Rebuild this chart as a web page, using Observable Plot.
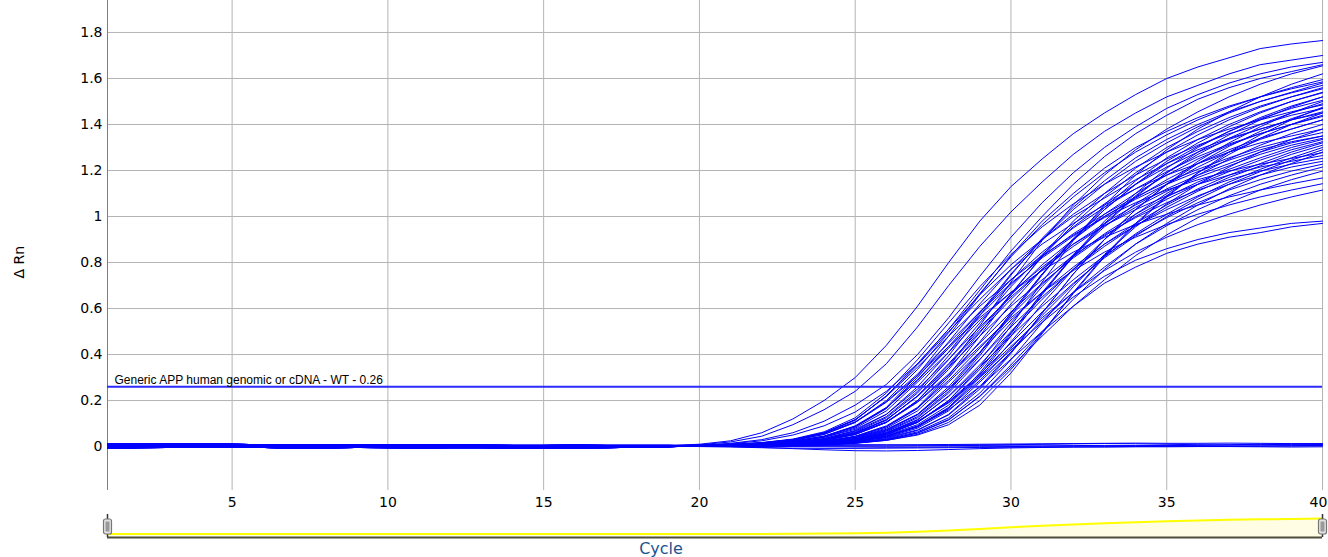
<!DOCTYPE html>
<html>
<head>
<meta charset="utf-8">
<script src="https://cdn.jsdelivr.net/npm/d3@7"></script>
<script src="https://cdn.jsdelivr.net/npm/@observablehq/plot@0.6"></script>
<style>
  body { margin: 0; background: #fff; }
  #wrap { position: relative; width: 1328px; height: 557px; overflow: hidden; background: #fff; }
  #main { position: absolute; left: 0; top: 0; }
  #slider { position: absolute; left: 0; top: 512px; }
  #xlabel { position: absolute; left: 0; top: 539px; width: 1322px; text-align: center;
            font-family: "DejaVu Sans", sans-serif; font-size: 16px; line-height: 19px; color: #1c5490; }
</style>
</head>
<body>
<div id="wrap">
  <div id="main"></div>
  <div id="slider"></div>
  <div id="xlabel">Cycle</div>
</div>
<script>
// ---- data (ΔRn per cycle) ----
const cycles = [1,2,3,4,5,6,7,8,9,10,11,12,13,14,15,16,17,18,19,20,21,22,23,24,25,26,27,28,29,30,31,32,33,34,35,36,37,38,39,40];
const xTicks = [5,10,15,20,25,30,35];
const xTickLast = [40];
const yTicks = [0,0.2,0.4,0.6,0.8,1,1.2,1.4,1.6,1.8];
const threshold = 0.26;
const thresholdLabel = "Generic APP human genomic or cDNA - WT - 0.26";
const yLabel = "\u0394 Rn";

// cycles 1..19 baseline variants
const baselines = [
  [0.013,0.012,0.011,0.011,0.010,0.008,0.006,0.007,0.008,0.007,0.006,0.007,0.006,0.005,0.005,0.006,0.005,0.005,0.005],
  [0.005,0.004,0.004,0.005,0.003,0.001,-0.001,0.000,0.002,0.001,0.000,0.001,0.001,0.000,-0.001,0.000,0.001,0.001,0.002],
  [0.009,0.008,0.008,0.008,0.006,0.004,0.002,0.003,0.005,0.003,0.002,0.003,0.003,0.002,0.002,0.003,0.003,0.003,0.003],
  [-0.007,-0.005,-0.004,-0.003,-0.003,-0.004,-0.007,-0.006,-0.004,-0.005,-0.006,-0.005,-0.005,-0.006,-0.007,-0.006,-0.005,-0.003,-0.001],
  [0.002,0.001,0.002,0.002,0.000,-0.002,-0.004,-0.003,-0.001,-0.002,-0.003,-0.002,-0.001,-0.002,-0.003,-0.002,-0.001,0.000,0.001]
];

// cycles 20..40
const topCurves = [
  [0.01,0.025,0.06,0.12,0.20,0.30,0.44,0.61,0.80,0.98,1.13,1.25,1.36,1.45,1.53,1.60,1.65,1.69,1.73,1.75,1.765],
  [0.008,0.02,0.045,0.095,0.16,0.24,0.36,0.52,0.70,0.87,1.02,1.15,1.27,1.37,1.45,1.52,1.57,1.62,1.66,1.68,1.70],
  [0.006,0.014,0.03,0.06,0.11,0.18,0.27,0.40,0.56,0.74,0.91,1.06,1.19,1.30,1.39,1.47,1.53,1.58,1.62,1.65,1.67],
  [0.005,0.012,0.025,0.05,0.09,0.15,0.24,0.36,0.51,0.68,0.85,1.00,1.14,1.26,1.36,1.44,1.51,1.56,1.60,1.63,1.66]
];
const groupE = [
  [0.0035,0.005,0.008,0.014,0.0265,0.0525,0.105,0.20,0.345,0.525,0.715,0.895,1.05,1.18,1.29,1.38,1.455,1.52,1.575,1.62,1.655],
  [0.003,0.0035,0.005,0.008,0.014,0.0265,0.0525,0.105,0.20,0.345,0.525,0.715,0.895,1.05,1.18,1.29,1.38,1.455,1.52,1.575,1.62]
];
const groupB = [
  [0.005,0.008,0.014,0.027,0.053,0.105,0.2,0.335,0.495,0.665,0.825,0.965,1.085,1.19,1.28,1.355,1.42,1.475,1.52,1.56,1.595],
  [0.004,0.006,0.010,0.018,0.035,0.07,0.14,0.26,0.41,0.58,0.75,0.90,1.03,1.14,1.24,1.32,1.39,1.45,1.50,1.54,1.58],
  [0.0035,0.005,0.008,0.014,0.027,0.053,0.105,0.2,0.335,0.495,0.665,0.825,0.965,1.085,1.19,1.28,1.355,1.42,1.475,1.52,1.56],
  [0.003,0.004,0.006,0.010,0.018,0.035,0.07,0.14,0.26,0.41,0.58,0.75,0.90,1.03,1.14,1.24,1.32,1.39,1.45,1.50,1.54],
  [0.003,0.0035,0.005,0.008,0.014,0.027,0.053,0.105,0.2,0.335,0.495,0.665,0.825,0.965,1.085,1.19,1.28,1.355,1.42,1.475,1.52],
  [0.003,0.003,0.004,0.006,0.010,0.018,0.035,0.07,0.14,0.26,0.41,0.58,0.75,0.90,1.03,1.14,1.24,1.32,1.39,1.45,1.50],
  [0.0025,0.003,0.0035,0.005,0.008,0.014,0.027,0.053,0.105,0.2,0.335,0.495,0.665,0.825,0.965,1.085,1.19,1.28,1.355,1.42,1.475]
];
const groupBC = [
  [0.0055,0.0095,0.017,0.0325,0.064,0.125,0.2325,0.3775,0.5375,0.695,0.835,0.955,1.055,1.14,1.215,1.28,1.335,1.38,1.42,1.455,1.485],
  [0.004,0.007,0.012,0.022,0.043,0.085,0.165,0.30,0.455,0.62,0.77,0.90,1.01,1.10,1.18,1.25,1.31,1.36,1.40,1.44,1.47],
  [0.0035,0.0055,0.0095,0.017,0.0325,0.064,0.125,0.2325,0.3775,0.5375,0.695,0.835,0.955,1.055,1.14,1.215,1.28,1.335,1.38,1.42,1.455],
  [0.003,0.004,0.007,0.012,0.022,0.043,0.085,0.165,0.30,0.455,0.62,0.77,0.90,1.01,1.10,1.18,1.25,1.31,1.36,1.40,1.44],
  [0.003,0.0035,0.0055,0.0095,0.017,0.0325,0.064,0.125,0.2325,0.3775,0.5375,0.695,0.835,0.955,1.055,1.14,1.215,1.28,1.335,1.38,1.42],
  [0.003,0.003,0.004,0.007,0.012,0.022,0.043,0.085,0.165,0.30,0.455,0.62,0.77,0.90,1.01,1.10,1.18,1.25,1.31,1.36,1.40],
  [0.0025,0.003,0.0035,0.0055,0.0095,0.017,0.0325,0.064,0.125,0.2325,0.3775,0.5375,0.695,0.835,0.955,1.055,1.14,1.215,1.28,1.335,1.38]
];
const groupC = [
  [0.005,0.008,0.015,0.029,0.058,0.115,0.22,0.355,0.50,0.64,0.77,0.88,0.97,1.05,1.12,1.18,1.23,1.28,1.32,1.35,1.38],
  [0.0045,0.0065,0.0115,0.022,0.0435,0.0865,0.1675,0.2875,0.4275,0.57,0.705,0.825,0.925,1.01,1.085,1.15,1.205,1.255,1.30,1.335,1.365],
  [0.004,0.005,0.008,0.015,0.029,0.058,0.115,0.22,0.355,0.50,0.64,0.77,0.88,0.97,1.05,1.12,1.18,1.23,1.28,1.32,1.35],
  [0.0035,0.0045,0.0065,0.0115,0.022,0.0435,0.0865,0.1675,0.2875,0.4275,0.57,0.705,0.825,0.925,1.01,1.085,1.15,1.205,1.255,1.30,1.335],
  [0.003,0.004,0.005,0.008,0.015,0.029,0.058,0.115,0.22,0.355,0.50,0.64,0.77,0.88,0.97,1.05,1.12,1.18,1.23,1.28,1.32],
  [0.003,0.0035,0.0045,0.0065,0.0115,0.022,0.0435,0.0865,0.1675,0.2875,0.4275,0.57,0.705,0.825,0.925,1.01,1.085,1.15,1.205,1.255,1.30],
  [0.003,0.003,0.004,0.005,0.008,0.015,0.029,0.058,0.115,0.22,0.355,0.50,0.64,0.77,0.88,0.97,1.05,1.12,1.18,1.23,1.28]
];
const groupCD = [
  [0.005,0.0085,0.0155,0.03,0.06,0.1175,0.2175,0.345,0.48,0.61,0.725,0.83,0.92,0.995,1.06,1.115,1.16,1.1975,1.2275,1.2525,1.2775],
  [0.004,0.006,0.011,0.02,0.04,0.08,0.155,0.28,0.41,0.55,0.67,0.78,0.88,0.96,1.03,1.09,1.14,1.18,1.215,1.24,1.265],
  [0.0035,0.005,0.0085,0.0155,0.03,0.06,0.1175,0.2175,0.345,0.48,0.61,0.725,0.83,0.92,0.995,1.06,1.115,1.16,1.1975,1.2275,1.2525],
  [0.003,0.004,0.006,0.011,0.02,0.04,0.08,0.155,0.28,0.41,0.55,0.67,0.78,0.88,0.96,1.03,1.09,1.14,1.18,1.215,1.24],
  [0.003,0.0035,0.005,0.0085,0.0155,0.03,0.06,0.1175,0.2175,0.345,0.48,0.61,0.725,0.83,0.92,0.995,1.06,1.115,1.16,1.1975,1.2275],
  [0.003,0.003,0.004,0.006,0.011,0.02,0.04,0.08,0.155,0.28,0.41,0.55,0.67,0.78,0.88,0.96,1.03,1.09,1.14,1.18,1.215],
  [0.0025,0.003,0.0035,0.005,0.0085,0.0155,0.03,0.06,0.1175,0.2175,0.345,0.48,0.61,0.725,0.83,0.92,0.995,1.06,1.115,1.16,1.1975]
];
const groupD = [
  [0.005,0.008,0.014,0.0265,0.0525,0.105,0.1925,0.3075,0.435,0.56,0.67,0.765,0.845,0.91,0.965,1.01,1.05,1.085,1.115,1.1425,1.1675],
  [0.0035,0.005,0.008,0.014,0.0265,0.0525,0.105,0.1925,0.3075,0.435,0.56,0.67,0.765,0.845,0.91,0.965,1.01,1.05,1.085,1.115,1.1425],
  [0.003,0.0035,0.005,0.008,0.014,0.0265,0.0525,0.105,0.1925,0.3075,0.435,0.56,0.67,0.765,0.845,0.91,0.965,1.01,1.05,1.085,1.115]
];
const groupS = [
  [0.0035,0.005,0.0075,0.012,0.021,0.0385,0.0725,0.1375,0.25,0.405,0.58,0.75,0.90,1.03,1.14,1.23,1.305,1.37,1.425,1.47,1.505],
  [0.003,0.004,0.006,0.009,0.015,0.027,0.05,0.095,0.18,0.32,0.49,0.67,0.83,0.97,1.09,1.19,1.27,1.34,1.40,1.45,1.49],
  [0.003,0.0035,0.005,0.0075,0.012,0.021,0.0385,0.0725,0.1375,0.25,0.405,0.58,0.75,0.90,1.03,1.14,1.23,1.305,1.37,1.425,1.47],
  [0.003,0.003,0.004,0.006,0.009,0.015,0.027,0.05,0.095,0.18,0.32,0.49,0.67,0.83,0.97,1.09,1.19,1.27,1.34,1.40,1.45]
];
const groupT = [
  [0.005,0.008,0.013,0.024,0.045,0.09,0.17,0.31,0.48,0.66,0.83,0.98,1.10,1.21,1.30,1.37,1.43,1.48,1.52,1.555,1.585],
  [0.004,0.0065,0.0105,0.0185,0.0345,0.0675,0.13,0.24,0.395,0.57,0.745,0.905,1.04,1.155,1.255,1.335,1.40,1.455,1.50,1.5375,1.57],
  [0.003,0.005,0.008,0.013,0.024,0.045,0.09,0.17,0.31,0.48,0.66,0.83,0.98,1.10,1.21,1.30,1.37,1.43,1.48,1.52,1.555],
  [0.003,0.004,0.0065,0.0105,0.0185,0.0345,0.0675,0.13,0.24,0.395,0.57,0.745,0.905,1.04,1.155,1.255,1.335,1.40,1.455,1.50,1.5375],
  [0.003,0.003,0.005,0.008,0.013,0.024,0.045,0.09,0.17,0.31,0.48,0.66,0.83,0.98,1.10,1.21,1.30,1.37,1.43,1.48,1.52]
];
const groupU = [
  [0.0055,0.0095,0.017,0.031,0.0575,0.1075,0.195,0.315,0.45,0.585,0.71,0.82,0.915,1.00,1.075,1.14,1.195,1.245,1.29,1.325,1.35],
  [0.004,0.007,0.012,0.022,0.04,0.075,0.14,0.25,0.38,0.52,0.65,0.77,0.87,0.96,1.04,1.11,1.17,1.22,1.27,1.31,1.34],
  [0.0035,0.0055,0.0095,0.017,0.031,0.0575,0.1075,0.195,0.315,0.45,0.585,0.71,0.82,0.915,1.00,1.075,1.14,1.195,1.245,1.29,1.325],
  [0.003,0.004,0.007,0.012,0.022,0.04,0.075,0.14,0.25,0.38,0.52,0.65,0.77,0.87,0.96,1.04,1.11,1.17,1.22,1.27,1.31],
  [0.003,0.0035,0.0055,0.0095,0.017,0.031,0.0575,0.1075,0.195,0.315,0.45,0.585,0.71,0.82,0.915,1.00,1.075,1.14,1.195,1.245,1.29]
];
const groupV = [
  [0.005,0.009,0.016,0.03,0.06,0.115,0.22,0.36,0.51,0.66,0.79,0.90,1.00,1.08,1.16,1.23,1.29,1.34,1.38,1.42,1.45],
  [0.0045,0.007,0.0125,0.023,0.045,0.0875,0.1675,0.29,0.435,0.585,0.725,0.845,0.95,1.04,1.12,1.195,1.26,1.315,1.36,1.40,1.435],
  [0.004,0.005,0.009,0.016,0.03,0.06,0.115,0.22,0.36,0.51,0.66,0.79,0.90,1.00,1.08,1.16,1.23,1.29,1.34,1.38,1.42]
];
const lateCurves = [
  [0.003,0.004,0.006,0.01,0.018,0.032,0.06,0.11,0.19,0.30,0.42,0.54,0.65,0.74,0.81,0.86,0.90,0.93,0.95,0.97,0.98],
  [0.003,0.004,0.005,0.008,0.014,0.025,0.047,0.088,0.16,0.26,0.38,0.50,0.61,0.71,0.78,0.84,0.88,0.91,0.93,0.955,0.97]
];
const flatCurves = [
  [0.003,0.004,0.004,0.005,0.005,0.006,0.007,0.008,0.009,0.010,0.011,0.012,0.013,0.014,0.015,0.014,0.014,0.015,0.014,0.013,0.013],
  [0.002,0.000,-0.004,-0.009,-0.014,-0.018,-0.019,-0.017,-0.013,-0.009,-0.006,-0.004,-0.002,-0.001,0.000,0.001,0.002,0.002,0.003,0.004,0.005],
  [0.004,0.004,0.003,0.003,0.003,0.002,0.002,0.003,0.004,0.005,0.006,0.006,0.005,0.004,0.004,0.005,0.006,0.008,0.010,0.010,0.009],
  [0.001,0.001,0.000,0.000,-0.001,-0.002,-0.003,-0.003,-0.002,-0.001,0.000,0.001,0.002,0.003,0.004,0.004,0.003,0.002,0.002,0.003,0.004],
  [0.005,0.006,0.007,0.008,0.008,0.008,0.007,0.006,0.006,0.007,0.008,0.010,0.012,0.013,0.012,0.010,0.008,0.007,0.008,0.010,0.011],
  [0.000,-0.002,-0.005,-0.007,-0.008,-0.008,-0.007,-0.006,-0.005,-0.004,-0.003,-0.003,-0.002,-0.002,-0.001,-0.001,0.000,0.000,-0.001,-0.002,-0.001]
];

// ---- build table ----
const allCurves = [...topCurves, ...groupE, ...groupB, ...groupBC, ...groupC, ...groupCD, ...groupD,
                   ...groupS, ...groupT, ...groupU, ...groupV, ...lateCurves, ...flatCurves];
const fullCurves = allCurves.map((c, i) => baselines[i % baselines.length].concat(c));
const rows = fullCurves.flatMap((vals, i) => vals.map((v, j) => ({id: i, cycle: cycles[j], value: v})));
const meanRows = cycles.map((c, j) => ({cycle: c, value: d3.mean(fullCurves, f => f[j])}));

const FONT = "DejaVu Sans, Verdana, sans-serif";

const main = Plot.plot({
  width: 1328, height: 512,
  marginLeft: 107, marginRight: 6, marginTop: 0, marginBottom: 22,
  x: {domain: [1, 40]},
  y: {domain: [-0.191, 1.939]},
  style: {fontFamily: FONT, fontSize: "14px", color: "#000", background: "#fff"},
  marks: [
    Plot.ruleY(yTicks, {stroke: "#b4b4b4", strokeWidth: 1}),
    Plot.ruleX([...xTicks, ...xTickLast], {stroke: "#b4b4b4", strokeWidth: 1}),
    Plot.ruleX([1], {stroke: "#7f7f7f", strokeWidth: 1}),
    Plot.line(rows, {x: "cycle", y: "value", z: "id", stroke: "#0000ff", strokeWidth: 1}),
    Plot.ruleY([threshold], {stroke: "#2b2bff", strokeWidth: 2}),
    Plot.text([thresholdLabel], {x: 1, y: threshold, text: d => d, dx: 7, dy: -7, textAnchor: "start",
      fontFamily: "Liberation Sans, Arial, sans-serif", fontSize: 12, fill: "#000"}),
    Plot.axisY(yTicks, {tickSize: 0, tickPadding: 5, tickFormat: d => String(+d.toFixed(1)), label: null, fontSize: 14}),
    Plot.axisX(xTicks, {tickSize: 0, tickPadding: 7, label: null, fontSize: 14}),
    Plot.axisX(xTickLast, {tickSize: 0, tickPadding: 7, label: null, fontSize: 14, dx: -4}),
    Plot.text([yLabel], {frameAnchor: "left", text: d => d, dx: -87.5, dy: 33, rotate: -90, fontSize: 14, fill: "#000"})
  ]
});
document.getElementById("main").appendChild(main);

// ---- overview slider ----
const M = meanRows[meanRows.length - 1].value;
const lo = -M * 3.5 / 15.5;
const handle = {draw(ctx) {
  ctx.moveTo(-2, -7.5); ctx.lineTo(2, -7.5); ctx.arcTo(4, -7.5, 4, -5.5, 2);
  ctx.lineTo(4, 5.5); ctx.arcTo(4, 7.5, 2, 7.5, 2); ctx.lineTo(-2, 7.5);
  ctx.arcTo(-4, 7.5, -4, 5.5, 2); ctx.lineTo(-4, -5.5); ctx.arcTo(-4, -7.5, -2, -7.5, 2); ctx.closePath();
}};
const handleInner = {draw(ctx) {
  ctx.moveTo(-2, -5); ctx.lineTo(2, -5); ctx.lineTo(2, 5); ctx.lineTo(-2, 5); ctx.closePath();
}};
const ends = [cycles[0], cycles[cycles.length - 1]];
const slider = Plot.plot({
  width: 1328, height: 30,
  marginLeft: 107, marginRight: 6, marginTop: 0, marginBottom: 0,
  x: {domain: [1, 40], axis: null},
  y: {domain: [lo, M], range: [25, 6], axis: null},
  style: {background: "#fff"},
  marks: [
    Plot.areaY(meanRows, {x: "cycle", y1: lo, y2: "value", fill: "#fffde3"}),
    Plot.lineY(meanRows, {x: "cycle", y: "value", stroke: "#ffff00", strokeWidth: 2}),
    Plot.ruleY([lo], {stroke: "#4d4d3d", strokeWidth: 2}),
    Plot.ruleX(ends, {stroke: "#333", strokeWidth: 1.5, insetTop: 2, insetBottom: 5}),
    Plot.dot(ends, {x: d => d, frameAnchor: "middle", dy: -1, symbol: handle, fill: "#e2e2e2", stroke: "#777", strokeWidth: 1.2}),
    Plot.dot(ends, {x: d => d, frameAnchor: "middle", dy: -1, symbol: handleInner, fill: "#9a9a9a", stroke: "none"})
  ]
});
document.getElementById("slider").appendChild(slider);
</script>
</body>
</html>
